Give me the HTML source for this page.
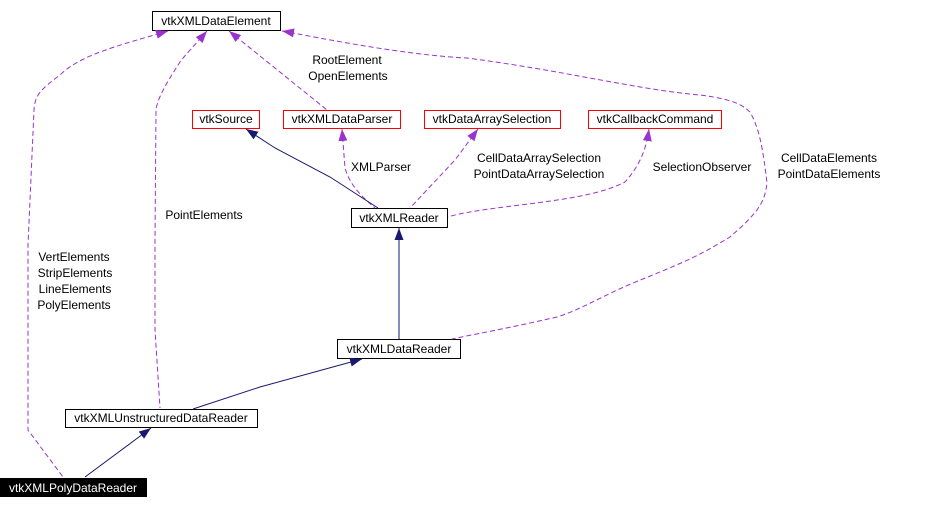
<!DOCTYPE html>
<html><head><meta charset="utf-8"><style>
html,body{margin:0;padding:0;background:#fff;}
svg{display:block;font-family:"Liberation Sans",Arial,sans-serif;font-size:12px;}
</style></head><body>
<svg width="933" height="509" viewBox="0 0 933 509" xmlns="http://www.w3.org/2000/svg">
<defs>
<marker id="ap" viewBox="0 0 12 9" refX="12" refY="4.5" markerWidth="12" markerHeight="9" markerUnits="userSpaceOnUse" orient="auto-start-reverse"><path d="M0,0 L12,4.5 L0,9 z" fill="#9a32cd"/></marker>
<marker id="an" viewBox="0 0 12 9" refX="12" refY="4.5" markerWidth="12" markerHeight="9" markerUnits="userSpaceOnUse" orient="auto-start-reverse"><path d="M0,0 L12,4.5 L0,9 z" fill="#191970"/></marker>
</defs>
<g stroke-width="1">
<rect x="152.5" y="11.5" width="128" height="19" fill="#fff" stroke="#000"/>
<rect x="192.5" y="110.5" width="67" height="18" fill="#fff" stroke="#f00"/>
<rect x="283.5" y="110.5" width="117" height="18" fill="#fff" stroke="#f00"/>
<rect x="424.5" y="110.5" width="136" height="18" fill="#fff" stroke="#f00"/>
<rect x="588.5" y="110.5" width="133" height="18" fill="#fff" stroke="#f00"/>
<rect x="351.5" y="208.5" width="96" height="19" fill="#fff" stroke="#000"/>
<rect x="337.5" y="339.5" width="123" height="19" fill="#fff" stroke="#000"/>
<rect x="65.5" y="409.5" width="192" height="18" fill="#fff" stroke="#000"/>
<rect x="0" y="478" width="147" height="19" fill="#000"/>
</g>
<g fill="none" stroke="#9a32cd" stroke-width="1" stroke-dasharray="5,3">
<path d="M168,31 C120,45 80,55 60,75 C40,90 35,95 34,110 L28,245 L28,430 L63,477" marker-start="url(#ap)"/>
<path d="M207,31 C195,45 185,55 180,62 C165,85 157,100 156,110 L155,240 L155,330 L160,408" marker-start="url(#ap)"/>
<path d="M229,31 L327,110" marker-start="url(#ap)"/>
<path d="M282,31 C300,34 400,55 467,58 C560,70 640,90 700,95 C740,100 745,108 750,112 C760,130 763,150 767,183 C765,200 760,205 757,210 C745,225 735,232 730,237 C700,255 690,260 633,283 C600,297 580,310 557,317 C500,330 470,335 452,339" marker-start="url(#ap)"/>
<path d="M342,129 L345,168 C350,185 360,195 375,208" marker-start="url(#ap)"/>
<path d="M478,129 L455,160 L410,208" marker-start="url(#ap)"/>
<path d="M649,129 C646,150 640,165 625,182 C600,195 560,200 520,205 C480,210 460,213 448,217" marker-start="url(#ap)"/>
</g>
<g fill="none" stroke="#191970" stroke-width="1">
<path d="M246,129 L275,148 L330,177 L378,208" marker-start="url(#an)"/>
<path d="M399,228 L399,339" marker-start="url(#an)"/>
<path d="M362,359 L260,387 L193,409" marker-start="url(#an)"/>
<path d="M151,428 L85,477" marker-start="url(#an)"/>
</g>
<g text-anchor="middle" fill="#000">
<text x="216" y="25">vtkXMLDataElement</text>
<text x="226" y="123">vtkSource</text>
<text x="342" y="123">vtkXMLDataParser</text>
<text x="492" y="123">vtkDataArraySelection</text>
<text x="655" y="123">vtkCallbackCommand</text>
<text x="399" y="222">vtkXMLReader</text>
<text x="399" y="353">vtkXMLDataReader</text>
<text x="161" y="422">vtkXMLUnstructuredDataReader</text>
<text x="73" y="492" fill="#fff">vtkXMLPolyDataReader</text>
<text x="347" y="64">RootElement</text>
<text x="348" y="80">OpenElements</text>
<text x="381" y="171">XMLParser</text>
<text x="539" y="162">CellDataArraySelection</text>
<text x="539" y="178">PointDataArraySelection</text>
<text x="702" y="171">SelectionObserver</text>
<text x="829" y="162">CellDataElements</text>
<text x="829" y="178">PointDataElements</text>
<text x="204" y="219">PointElements</text>
<text x="74" y="261">VertElements</text>
<text x="75" y="277">StripElements</text>
<text x="75" y="293">LineElements</text>
<text x="74" y="309">PolyElements</text>
</g>
</svg>
</body></html>
